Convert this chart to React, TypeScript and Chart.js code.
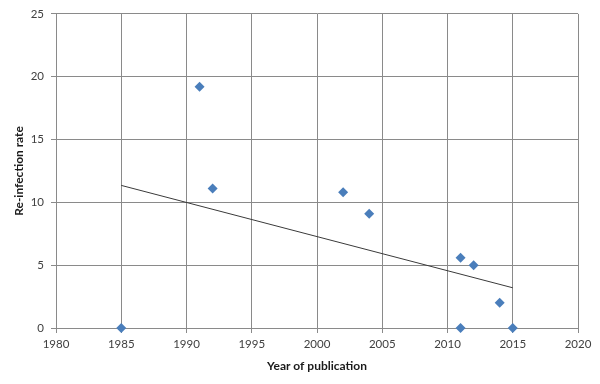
import React, { useEffect, useRef } from "react";
import { Chart, registerables } from "chart.js";

Chart.register(...registerables);

const years = [1985, 1991, 1992, 2002, 2004, 2011, 2011, 2012, 2014, 2015];
const rates = [0, 19.2, 11.1, 10.8, 9.1, 5.6, 0, 5.0, 2.0, 0];
const trendYears = [1985, 2015];
const trendRates = [11.35, 3.2];
const xTitle = "Year of publication";
const yTitle = "Re-infection rate";

const FONT = "Lato, 'Liberation Sans', sans-serif";

export default function App() {
  const ref = useRef<HTMLCanvasElement | null>(null);
  useEffect(() => {
    document.body.style.margin = "0";
    const canvas = ref.current;
    if (!canvas) return;
    const chart = new Chart(canvas, {
      type: "scatter",
      data: {
        datasets: [
          {
            label: "Re-infection rate",
            data: years.map((y, i) => ({ x: y, y: rates[i] })),
            pointStyle: "rectRot",
            pointRadius: 5,
            pointBackgroundColor: "#4a7ebb",
            pointBorderColor: "#4a7ebb",
            pointBorderWidth: 0,
            showLine: false,
            clip: false,
            order: 1,
          },
          {
            label: "Trend",
            data: trendYears.map((y, i) => ({ x: y, y: trendRates[i] })),
            showLine: true,
            pointRadius: 0,
            borderColor: "#3a3a3a",
            borderWidth: 1,
            fill: false,
            order: 2,
          },
        ],
      },
      options: {
        animation: false,
        responsive: false,
        devicePixelRatio: 1,
        layout: { padding: { top: 11, right: 22, left: 0, bottom: 0 } },
        plugins: { legend: { display: false }, tooltip: { enabled: false } },
        scales: {
          x: {
            type: "linear",
            min: 1980,
            max: 2020,
            ticks: {
              stepSize: 5,
              color: "#404040",
              padding: 4,
              font: { family: FONT, size: 11.5 },
              callback: (v: any) => String(v),
            },
            grid: { color: "#8a8a8a", lineWidth: 1, tickLength: 5 },
            border: { color: "#8a8a8a" },
            title: {
              display: true,
              text: xTitle,
              color: "#1a1a1a",
              font: { family: FONT, size: 12, weight: "bold" },
              padding: { top: 0, bottom: 11 },
            },
            afterFit: (s: any) => {
              s.height = 56;
            },
          },
          y: {
            type: "linear",
            min: 0,
            max: 25,
            ticks: {
              stepSize: 5,
              color: "#404040",
              padding: 7,
              font: { family: FONT, size: 11.5 },
            },
            grid: { color: "#8a8a8a", lineWidth: 1, tickLength: 5 },
            border: { color: "#8a8a8a" },
            title: {
              display: true,
              text: yTitle,
              color: "#1a1a1a",
              font: { family: FONT, size: 12, weight: "bold" },
              padding: { top: 12, bottom: 0 },
            },
            afterFit: (s: any) => {
              s.width = 56;
            },
          },
        },
      },
    });
    return () => chart.destroy();
  }, []);
  return (
    <div style={{ position: "fixed", left: 0, top: 0, width: 600, height: 384, background: "#fff" }}>
      <canvas ref={ref} width={600} height={384} style={{ width: 600, height: 384, display: "block" }} />
    </div>
  );
}
